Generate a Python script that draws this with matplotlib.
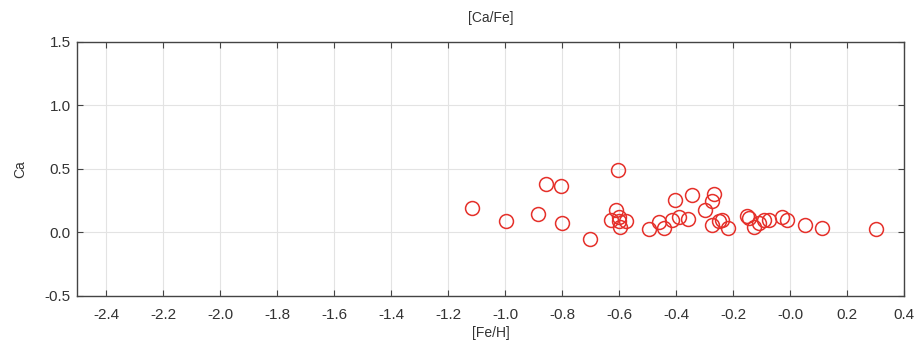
import matplotlib
matplotlib.use("Agg")
import matplotlib.pyplot as plt

# [Fe/H] and [Ca/Fe] per star
fe_h = [-1.116, -0.997, -0.883, -0.858, -0.804, -0.800, -0.702, -0.604, -0.611,
        -0.629, -0.600, -0.597, -0.576, -0.602, -0.495, -0.460, -0.443, -0.415,
        -0.404, -0.390, -0.360, -0.346, -0.298, -0.273, -0.267, -0.273, -0.249,
        -0.238, -0.217, -0.150, -0.144, -0.127, -0.109, -0.092, -0.074, -0.028,
        -0.010, 0.052, 0.110, 0.302]
ca_fe = [0.19, 0.089, 0.139, 0.379, 0.360, 0.071, -0.053, 0.492, 0.176,
         0.097, 0.123, 0.044, 0.084, 0.084, 0.024, 0.076, 0.032, 0.097,
         0.255, 0.123, 0.105, 0.295, 0.176, 0.242, 0.302, 0.058, 0.084,
         0.097, 0.032, 0.129, 0.110, 0.040, 0.071, 0.097, 0.097, 0.118,
         0.097, 0.058, 0.032, 0.024]

x_ticks = [-2.4, -2.2, -2.0, -1.8, -1.6, -1.4, -1.2, -1.0, -0.8, -0.6, -0.4,
           -0.2, 0.0, 0.2, 0.4]
x_labels = ["-2.4", "-2.2", "-2.0", "-1.8", "-1.6", "-1.4", "-1.2", "-1.0",
            "-0.8", "-0.6", "-0.4", "-0.2", "-0.0", "0.2", "0.4"]
y_ticks = [-0.5, 0.0, 0.5, 1.0, 1.5]

plt.rcParams["font.family"] = ["Liberation Sans", "DejaVu Sans"]
text_color = "#333333"

fig = plt.figure(figsize=(9.18, 3.47), dpi=100)
ax = fig.add_axes([0.0844, 0.148, 0.9006, 0.732])

ax.plot(fe_h, ca_fe, linestyle="none", marker="o", markersize=10,
        markerfacecolor="none", markeredgecolor="#e5302a", markeredgewidth=1.1)

ax.set_xlim(-2.5, 0.4)
ax.set_ylim(-0.5, 1.5)
ax.set_xticks(x_ticks)
ax.set_xticklabels(x_labels)
ax.set_yticks(y_ticks)
ax.set_yticklabels(["-0.5", "0.0", "0.5", "1.0", "1.5"])

ax.grid(True, color="#e3e3e3", linewidth=0.8)
ax.set_axisbelow(True)
ax.tick_params(direction="in", length=4, width=0.8, top=True, right=True,
               labelsize=11, colors="#444444", labelcolor=text_color)
ax.tick_params(axis="x", pad=9)
ax.tick_params(axis="y", pad=5)
for spine in ax.spines.values():
    spine.set_color("#444444")
    spine.set_linewidth(1.0)

ax.set_xlabel("[Fe/H]", fontsize=10, color=text_color, labelpad=3)
ax.set_ylabel("Ca", fontsize=10, color=text_color, labelpad=12)
ax.set_title("[Ca/Fe]", fontsize=10, color=text_color, pad=14)

fig.savefig("out.png", dpi=100)
